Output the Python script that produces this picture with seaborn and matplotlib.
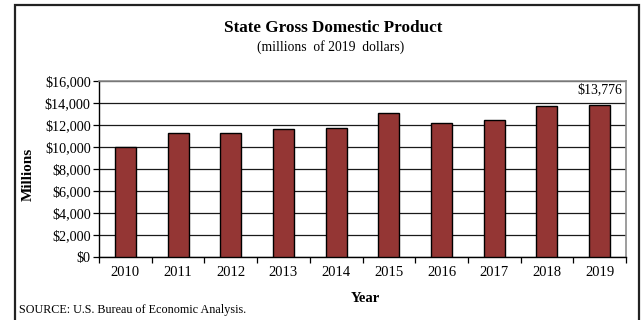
import matplotlib
matplotlib.use("Agg")
import matplotlib.pyplot as plt
import seaborn as sns
import pandas as pd
import numpy as np
from matplotlib.patches import Rectangle
from matplotlib.ticker import FuncFormatter, FixedLocator

years = ["2010", "2011", "2012", "2013", "2014", "2015", "2016", "2017", "2018", "2019"]
gdp = [10000, 11230, 11230, 11600, 11700, 13050, 12150, 12420, 13720, 13776]
y_ticks = [0, 2000, 4000, 6000, 8000, 10000, 12000, 14000, 16000]

sns.set_theme(style="white")
plt.rcParams['font.family'] = ['Liberation Serif', 'DejaVu Serif']
plt.rcParams['text.color'] = 'black'
plt.rcParams['xtick.color'] = 'black'
plt.rcParams['ytick.color'] = 'black'
plt.rcParams['axes.labelcolor'] = 'black'

df = pd.DataFrame({"Year": years, "GDP": gdp})

fig = plt.figure(figsize=(6.41, 3.2), dpi=100)
ax = fig.add_axes([99/641, 1 - 256.7/320, (626 - 99)/641, (256.7 - 81)/320])

sns.barplot(data=df, x="Year", y="GDP", color="#943634", saturation=1,
            width=0.4, edgecolor="black", linewidth=1.0, ax=ax, zorder=3)

ax.set_ylim(0, 16000)
ax.set_xlim(-0.5, len(years) - 0.5)
ax.yaxis.set_major_locator(FixedLocator(y_ticks))
ax.yaxis.set_major_formatter(FuncFormatter(lambda v, p: f"${int(v):,}"))
ax.grid(axis="y", color="#1a1a1a", linewidth=0.9, zorder=0)
ax.set_axisbelow(True)

ax.tick_params(axis="y", which="major", direction="out", length=4, width=0.9,
               color="black", labelsize=10.2, pad=2, left=True)
ax.tick_params(axis="x", which="major", length=0, labelsize=10.5, pad=7)
ax.set_xticks(np.arange(-0.5, len(years) + 0.5, 1), minor=True)
ax.tick_params(axis="x", which="minor", direction="out", length=4, width=0.9,
               color="black", bottom=True)

for s in ["left", "bottom"]:
    ax.spines[s].set_color("black")
    ax.spines[s].set_linewidth(1.0)
for s in ["top", "right"]:
    ax.spines[s].set_visible(True)
    ax.spines[s].set_color("#8c8c8c")
    ax.spines[s].set_linewidth(1.2)

ax.set_xlabel("")
ax.set_ylabel("")

# value label on last bar
ax.text(len(years) - 1, gdp[-1] + 850, f"${gdp[-1]:,}", ha="center", va="bottom",
        fontsize=10, color="black")

fig.text(333/641, 1 - 28/320, "State Gross Domestic Product", ha="center", va="center",
         fontsize=12.3, fontweight="bold")
fig.text(331/641, 1 - 47/320, "(millions  of 2019  dollars)", ha="center", va="center",
         fontsize=9.8)
fig.text(28/641, 1 - 174/320, "Millions", ha="center", va="center", rotation=90,
         fontsize=11, fontweight="bold")
fig.text(365/641, 1 - 299/320, "Year", ha="center", va="center",
         fontsize=10.5, fontweight="bold")
fig.text(19/641, 1 - 310/320, "SOURCE: U.S. Bureau of Economic Analysis.", ha="left",
         va="center", fontsize=8.7)

fig.patches.append(Rectangle((15/641, -0.05), (639 - 15)/641, 1.05 - 4.5/320,
                             transform=fig.transFigure, fill=False,
                             edgecolor="#222222", linewidth=1.6))

fig.savefig("out.png", dpi=100)
